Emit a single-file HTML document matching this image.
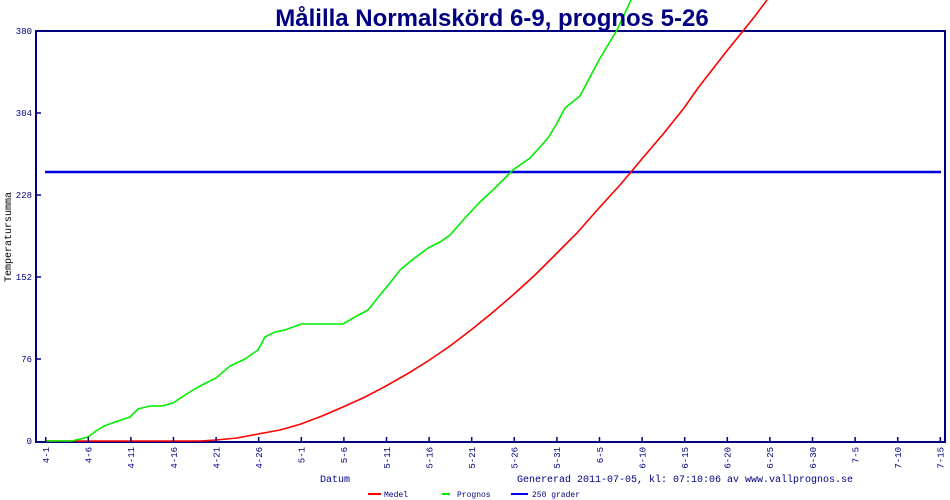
<!DOCTYPE html>
<html><head><meta charset="utf-8"><style>
html,body{margin:0;padding:0;background:#fff;}
svg{display:block}
</style></head><body>
<svg width="950" height="500" xmlns="http://www.w3.org/2000/svg" font-family="Liberation Mono, monospace">
<rect width="950" height="500" fill="#fff"/>
<g stroke="#000080" stroke-width="2" fill="none">
<path d="M36,31 H945 V442 H36 Z"/>
</g>
<g stroke="#000080" stroke-width="1.5">
<line x1="36" y1="113" x2="41" y2="113"/><line x1="36" y1="195" x2="41" y2="195"/>
<line x1="36" y1="277" x2="41" y2="277"/><line x1="36" y1="359" x2="41" y2="359"/>
</g>
<g font-size="9" fill="#000080" text-anchor="end">
<text x="32" y="34">380</text><text x="32" y="116">304</text><text x="32" y="198">228</text>
<text x="32" y="280">152</text><text x="32" y="362">76</text><text x="32" y="444">0</text>
</g>
<text transform="translate(11,237) rotate(-90)" text-anchor="middle" font-size="10" fill="#000">Temperatursumma</text>
<polyline fill="none" stroke="#0000e0" stroke-width="2.5" points="45,172 941,172"/>
<polyline fill="none" stroke="#ff0000" stroke-width="1.6" points="46,441 200,441 216,440 237,438 258,434 280,430 301,424 322,416 343,407 365,397 386,386 407,374 428,361 450,346 471,330 492,313 513,295 535,275 556,254 577,233 599,208 620,185 631,172 641,160 664,133 684,108 698,88 712,70 726,52 743,31 755,16 767,0"/>
<polyline fill="none" stroke="#00ee00" stroke-width="1.6" points="46,441 72,441 80,439 88,437 96,431 104,426 118,421 130,417 138,409 150,406 162,406 173,403 185,395 200,386 216,378 230,366 245,359 258,350 265,337 275,332 285,330 301,324 320,324 343,324 355,317 368,310 380,295 390,283 400,270 412,260 428,248 440,242 450,235 465,218 480,202 495,188 505,178 513,170 530,158 540,147 548,138 556,125 565,108 580,96 599,60 608,45 617,30 624,15 631,0"/>
<text x="492" y="26" text-anchor="middle" font-family="Liberation Sans, sans-serif" font-weight="bold" font-size="24" fill="#000080">Målilla Normalskörd 6-9, prognos 5-26</text>
<g font-size="10" fill="#000080">
<text x="320" y="482">Datum</text>
<text x="517" y="482">Genererad 2011-07-05, kl: 07:10:06 av www.vallprognos.se</text>
</g>
<line x1="368" y1="494" x2="381" y2="494" stroke="#ff0000" stroke-width="2"/>
<text x="384" y="497" font-size="8" fill="#000080">Medel</text>
<line x1="442" y1="494" x2="450" y2="494" stroke="#00ee00" stroke-width="2"/>
<text x="457" y="497" font-size="8" fill="#000080">Prognos</text>
<line x1="511" y1="494" x2="528" y2="494" stroke="#0000e0" stroke-width="2"/>
<text x="532" y="497" font-size="8" fill="#000080">250 grader</text>
<g stroke="#000080" stroke-width="1.5">
<line x1="45.7" y1="437" x2="45.7" y2="442"/><line x1="88.3" y1="437" x2="88.3" y2="442"/>
<line x1="130.9" y1="437" x2="130.9" y2="442"/><line x1="173.5" y1="437" x2="173.5" y2="442"/>
<line x1="216.1" y1="437" x2="216.1" y2="442"/><line x1="258.7" y1="437" x2="258.7" y2="442"/>
<line x1="301.3" y1="437" x2="301.3" y2="442"/><line x1="343.9" y1="437" x2="343.9" y2="442"/>
<line x1="386.5" y1="437" x2="386.5" y2="442"/><line x1="429.1" y1="437" x2="429.1" y2="442"/>
<line x1="471.7" y1="437" x2="471.7" y2="442"/><line x1="514.3" y1="437" x2="514.3" y2="442"/>
<line x1="556.9" y1="437" x2="556.9" y2="442"/><line x1="599.5" y1="437" x2="599.5" y2="442"/>
<line x1="642.1" y1="437" x2="642.1" y2="442"/><line x1="684.7" y1="437" x2="684.7" y2="442"/>
<line x1="727.3" y1="437" x2="727.3" y2="442"/><line x1="769.9" y1="437" x2="769.9" y2="442"/>
<line x1="812.5" y1="437" x2="812.5" y2="442"/><line x1="855.1" y1="437" x2="855.1" y2="442"/>
<line x1="897.7" y1="437" x2="897.7" y2="442"/><line x1="940.3" y1="437" x2="940.3" y2="442"/>
</g>
<g font-size="9" fill="#000080" text-anchor="end">
<text transform="translate(49,447) rotate(-90)">4-1</text>
<text transform="translate(91.6,447) rotate(-90)">4-6</text>
<text transform="translate(134.2,447) rotate(-90)">4-11</text>
<text transform="translate(176.8,447) rotate(-90)">4-16</text>
<text transform="translate(219.4,447) rotate(-90)">4-21</text>
<text transform="translate(262,447) rotate(-90)">4-26</text>
<text transform="translate(304.6,447) rotate(-90)">5-1</text>
<text transform="translate(347.2,447) rotate(-90)">5-6</text>
<text transform="translate(389.8,447) rotate(-90)">5-11</text>
<text transform="translate(432.4,447) rotate(-90)">5-16</text>
<text transform="translate(475,447) rotate(-90)">5-21</text>
<text transform="translate(517.6,447) rotate(-90)">5-26</text>
<text transform="translate(560.2,447) rotate(-90)">5-31</text>
<text transform="translate(602.8,447) rotate(-90)">6-5</text>
<text transform="translate(645.4,447) rotate(-90)">6-10</text>
<text transform="translate(688,447) rotate(-90)">6-15</text>
<text transform="translate(730.6,447) rotate(-90)">6-20</text>
<text transform="translate(773.2,447) rotate(-90)">6-25</text>
<text transform="translate(815.8,447) rotate(-90)">6-30</text>
<text transform="translate(858.4,447) rotate(-90)">7-5</text>
<text transform="translate(901,447) rotate(-90)">7-10</text>
<text transform="translate(943.6,447) rotate(-90)">7-15</text>
</g>
</svg>
</body></html>
